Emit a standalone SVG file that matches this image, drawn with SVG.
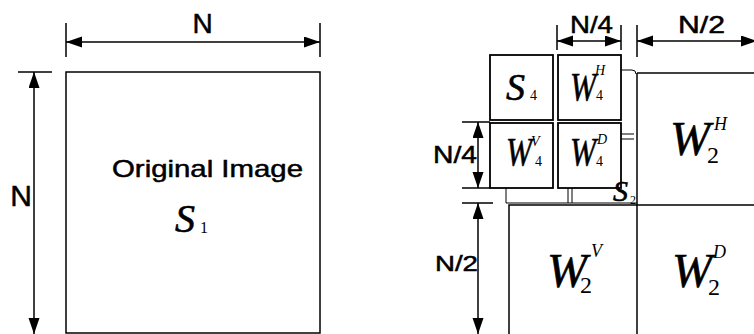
<svg xmlns="http://www.w3.org/2000/svg" width="754" height="334" viewBox="0 0 754 334">
<defs>
<marker id="ah" markerUnits="userSpaceOnUse" markerWidth="16" markerHeight="12" refX="16" refY="5.5" orient="auto-start-reverse">
<path d="M0,0 L16,5.5 L0,11 Z" fill="#000"/>
</marker>
</defs>
<style>
.ln{stroke:#000;stroke-width:1.5;fill:none}
.thin{stroke:#000;stroke-width:1;fill:none}
.box{stroke:#000;stroke-width:1.8;fill:#fff}
.dim{font-family:"Liberation Sans",Arial,sans-serif;fill:#000;stroke:#000;stroke-width:0.5}
.it{font-family:"Liberation Serif","Times New Roman",serif;font-style:italic;fill:#000}
.big{stroke:#000;stroke-width:0.6}
.rm{font-family:"Liberation Serif","Times New Roman",serif;fill:#000}
</style>
<rect width="754" height="334" fill="#fff"/>

<g id="original">
<rect x="66" y="72" width="254" height="261" class="ln"/>
<text x="112" y="177" class="dim" font-size="24" textLength="191" lengthAdjust="spacingAndGlyphs">Original Image</text>
<text x="175" y="232" class="it big" font-size="40">S</text>
<text x="200" y="233" class="rm" font-size="16">1</text>
</g>

<g id="s4">
<rect x="490" y="55" width="63" height="65" class="box"/>
<text x="506" y="100" class="it big" font-size="38">S</text>
<text x="530" y="100" class="rm" font-size="14">4</text>
</g>
<g id="w4h">
<rect x="558" y="55" width="63" height="65" class="box"/>
<text x="570" y="100" class="it big" font-size="40" textLength="26" lengthAdjust="spacingAndGlyphs">W</text>
<text x="595" y="75" class="it" font-size="14">H</text>
<text x="596" y="100" class="rm" font-size="14">4</text>
</g>
<g id="w4v">
<rect x="490" y="123" width="63" height="65" class="box"/>
<text x="506" y="165" class="it big" font-size="40" textLength="26" lengthAdjust="spacingAndGlyphs">W</text>
<text x="531" y="146" class="it" font-size="14">V</text>
<text x="535" y="166" class="rm" font-size="14">4</text>
</g>
<g id="w4d">
<rect x="558" y="123" width="63" height="65" class="box"/>
<text x="570" y="165" class="it big" font-size="40" textLength="26" lengthAdjust="spacingAndGlyphs">W</text>
<text x="597" y="144" class="it" font-size="14">D</text>
<text x="596" y="166" class="rm" font-size="14">4</text>
</g>

<g id="s2">
<path d="M621,70 H632 Q636,70 636,74" class="thin"/>
<path d="M621,134 H634 M621,139 H634" class="thin"/>
<path d="M506,188 V203 H637 M568,188 V203 M572,188 V203" class="thin"/>
<text x="613" y="201" class="it big" font-size="30">S</text>
<text x="630" y="204" class="rm" font-size="12">2</text>
</g>

<g id="w2h">
<path d="M637,73 H754" class="ln"/>
<text x="670" y="155" class="it big" font-size="48">W</text>
<text x="714" y="130" class="it" font-size="18">H</text>
<text x="707" y="163" class="rm" font-size="24">2</text>
</g>
<g id="w2v">
<path d="M509,334 V205 H754" class="ln"/>
<text x="547" y="287" class="it big" font-size="48">W</text>
<text x="591" y="257" class="it" font-size="18">V</text>
<text x="580" y="293" class="rm" font-size="24">2</text>
</g>
<g id="w2d">
<path d="M637,73 V334" class="ln"/>
<text x="672" y="287" class="it big" font-size="48">W</text>
<text x="713" y="258" class="it" font-size="18">D</text>
<text x="708" y="295" class="rm" font-size="24">2</text>
</g>

<g id="connectors">
<path d="M66,23 V57 M320,23 V57" class="ln"/>
<line x1="66" y1="42" x2="320" y2="42" class="ln" marker-start="url(#ah)" marker-end="url(#ah)"/>
<path d="M18,72 H52" class="ln"/>
<line x1="34" y1="72" x2="34" y2="334" class="ln" marker-start="url(#ah)" marker-end="url(#ah)"/>
<path d="M557,25 V50 M621,25 V50" class="ln"/>
<line x1="557" y1="41" x2="621" y2="41" class="ln" marker-start="url(#ah)" marker-end="url(#ah)"/>
<path d="M637,25 V57" class="ln"/>
<line x1="637" y1="41" x2="757" y2="41" class="ln" marker-start="url(#ah)" marker-end="url(#ah)"/>
<path d="M462,122 H490 M462,188 H490" class="ln"/>
<line x1="478" y1="122" x2="478" y2="188" class="ln" marker-start="url(#ah)" marker-end="url(#ah)"/>
<path d="M462,203 H493" class="ln"/>
<line x1="478" y1="203" x2="478" y2="334" class="ln" marker-start="url(#ah)" marker-end="url(#ah)"/>
</g>

<g id="labels">
<text x="202.5" y="33" class="dim" font-size="28" text-anchor="middle">N</text>
<text x="21" y="206" class="dim" font-size="30" text-anchor="middle">N</text>
<text x="570" y="33" class="dim" font-size="24" textLength="43" lengthAdjust="spacingAndGlyphs">N/4</text>
<text x="678" y="33" class="dim" font-size="24" textLength="47" lengthAdjust="spacingAndGlyphs">N/2</text>
<text x="433" y="163" class="dim" font-size="24" textLength="44" lengthAdjust="spacingAndGlyphs">N/4</text>
<text x="435" y="271" class="dim" font-size="22" textLength="43" lengthAdjust="spacingAndGlyphs">N/2</text>
</g>
</svg>
